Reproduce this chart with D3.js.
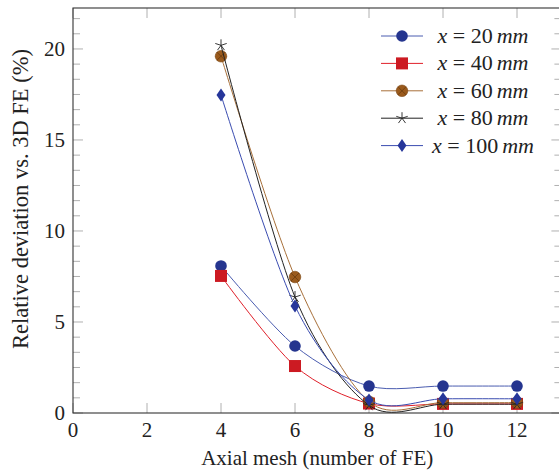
<!DOCTYPE html>
<html>
<head>
<meta charset="utf-8">
<script src="https://cdn.jsdelivr.net/npm/d3@7"></script>
<style>
  html, body { margin: 0; padding: 0; background: #fff; }
  svg { display: block; }
</style>
</head>
<body>
<svg id="chart" width="559" height="471"></svg>
<script>
// ---- data ----
const meshes = [4, 6, 8, 10, 12];
const seriesNames = ["20", "40", "60", "80", "100"];
const dev20  = [8.08, 3.68, 1.48, 1.48, 1.48];
const dev40  = [7.53, 2.58, 0.52, 0.50, 0.50];
const dev60  = [19.6, 7.47, 0.62, 0.57, 0.57];
const dev80  = [20.2, 6.37, 0.42, 0.48, 0.48];
const dev100 = [17.47, 5.88, 0.72, 0.78, 0.78];
const xTicks = [0, 2, 4, 6, 8, 10, 12];
const yTicks = [0, 5, 10, 15, 20];

const seriesValues = [dev20, dev40, dev60, dev80, dev100];
const styles = [
  { line: "#4a5cb0", fill: "#25358f", mark: "circle" },
  { line: "#e0202a", fill: "#cc1a22", mark: "square" },
  { line: "#a8703a", fill: "#9a5a1c", mark: "otimes" },
  { line: "#222222", fill: "#222222", mark: "star" },
  { line: "#3a4cb0", fill: "#26369a", mark: "diamond" }
];

const FONT = "'Liberation Serif'";
const svg = d3.select("#chart");
const pLeft = 73, pRight = 561.4, pTop = 8, pBottom = 413;
const x = d3.scaleLinear().domain([0, 13.2]).range([pLeft, pRight]);
const y = d3.scaleLinear().domain([0, 22.25]).range([pBottom, pTop]);

const tickColor = "#b0b0b0";

// y minor/major ticks left and right
const yMinor = d3.range(0, 22.25, 5 / 6);
const yt = svg.append("g");
yMinor.forEach(v => {
  const isMajor = Math.abs(Math.round(v) - v) < 1e-6 && Math.round(v) % 5 === 0;
  const len = isMajor ? 10 : 7;
  yt.append("line").attr("x1", pLeft).attr("x2", pLeft + len)
    .attr("y1", y(v)).attr("y2", y(v)).attr("stroke", tickColor).attr("stroke-width", 1);
  yt.append("line").attr("x1", pRight - len).attr("x2", pRight)
    .attr("y1", y(v)).attr("y2", y(v)).attr("stroke", tickColor).attr("stroke-width", 1);
});
// x ticks bottom and top
xTicks.forEach(v => {
  yt.append("line").attr("x1", x(v)).attr("x2", x(v))
    .attr("y1", pBottom).attr("y2", pBottom - 10).attr("stroke", tickColor);
  yt.append("line").attr("x1", x(v)).attr("x2", x(v))
    .attr("y1", pTop).attr("y2", pTop + 10).attr("stroke", tickColor);
});

// frame
svg.append("rect").attr("x", pLeft).attr("y", pTop)
  .attr("width", pRight - pLeft).attr("height", pBottom - pTop)
  .attr("fill", "none").attr("stroke", "#333").attr("stroke-width", 1.1);

// tick labels
svg.append("g").selectAll("text").data(xTicks).join("text")
  .attr("x", d => x(d)).attr("y", 437).attr("text-anchor", "middle")
  .attr("font-family", FONT).attr("fill", "#222")
  .attr("font-size", 21).text(d => d);
svg.append("g").selectAll("text").data(yTicks).join("text")
  .attr("x", 65).attr("y", d => y(d) + 7).attr("text-anchor", "end")
  .attr("font-family", FONT).attr("fill", "#222")
  .attr("font-size", 21).text(d => d);

// axis labels
svg.append("text").attr("x", (pLeft + pRight) / 2).attr("y", 465)
  .attr("text-anchor", "middle").attr("font-size", 21)
  .attr("font-family", FONT).attr("fill", "#222")
  .text("Axial mesh (number of FE)");
svg.append("text").attr("transform", "translate(28," + 199 + ") rotate(-90)")
  .attr("text-anchor", "middle").attr("font-size", 22.5)
  .attr("font-family", FONT).attr("fill", "#222")
  .text("Relative deviation vs. 3D FE (%)");

// markers
function drawMark(g, type, cx, cy, st) {
  if (type === "circle") {
    g.append("circle").attr("cx", cx).attr("cy", cy).attr("r", 5.8).attr("fill", st.fill);
  } else if (type === "square") {
    g.append("rect").attr("x", cx - 6).attr("y", cy - 6).attr("width", 12).attr("height", 12)
      .attr("fill", st.fill);
  } else if (type === "otimes") {
    g.append("circle").attr("cx", cx).attr("cy", cy).attr("r", 5.8).attr("fill", st.fill)
      .attr("stroke", "#7a4510").attr("stroke-width", 0.6);
    const r = 5.8 * Math.SQRT1_2;
    g.append("line").attr("x1", cx - r).attr("y1", cy - r).attr("x2", cx + r).attr("y2", cy + r)
      .attr("stroke", "#5a3008").attr("stroke-width", 0.6);
    g.append("line").attr("x1", cx - r).attr("y1", cy + r).attr("x2", cx + r).attr("y2", cy - r)
      .attr("stroke", "#5a3008").attr("stroke-width", 0.6);
  } else if (type === "star") {
    for (let k = 0; k < 5; k++) {
      const a = -Math.PI / 2 + k * 2 * Math.PI / 5;
      g.append("line").attr("x1", cx).attr("y1", cy)
        .attr("x2", cx + 6 * Math.cos(a)).attr("y2", cy + 6 * Math.sin(a))
        .attr("stroke", st.fill).attr("stroke-width", 0.9);
    }
  } else if (type === "diamond") {
    g.append("path").attr("d", `M${cx},${cy - 6.5}L${cx + 4.5},${cy}L${cx},${cy + 6.5}L${cx - 4.5},${cy}Z`)
      .attr("fill", st.fill);
  }
}

const line = d3.line().x((d, i) => x(meshes[i])).y(d => y(d)).curve(d3.curveCardinal.tension(0.1));

seriesValues.forEach((vals, si) => {
  const st = styles[si];
  const g = svg.append("g");
  g.append("path").attr("d", line(vals)).attr("fill", "none")
    .attr("stroke", st.line).attr("stroke-width", 1);
  vals.forEach((v, i) => drawMark(g, st.mark, x(meshes[i]), y(v), st));
});

// legend
const lg = svg.append("g");
seriesNames.forEach((name, i) => {
  const st = styles[i];
  const cy = 36 + i * 27.4;
  lg.append("line").attr("x1", 381).attr("x2", 423).attr("y1", cy).attr("y2", cy)
    .attr("stroke", st.line).attr("stroke-width", 1);
  drawMark(lg, st.mark, 402, cy, st);
  const t = lg.append("text").attr("x", 483).attr("y", cy + 7)
    .attr("text-anchor", "middle").attr("font-size", 22)
    .attr("font-family", FONT).attr("fill", "#222")
    .attr("xml:space", "preserve").style("white-space", "pre");
  t.append("tspan").attr("font-style", "italic").text("x");
  t.append("tspan").text(" = " + name);
  t.append("tspan").attr("dx", 4).attr("font-style", "italic").text("mm");
});
</script>
</body>
</html>
